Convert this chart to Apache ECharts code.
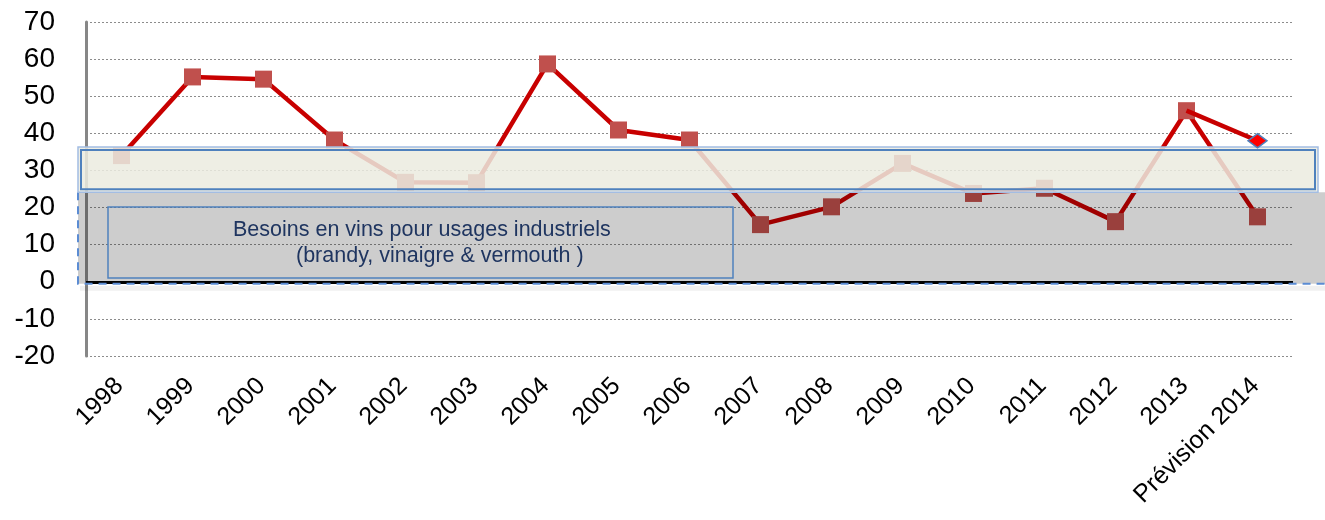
<!DOCTYPE html>
<html>
<head>
<meta charset="utf-8">
<script src="https://cdn.jsdelivr.net/npm/echarts@6/dist/echarts.min.js"></script>
<style>
html,body{margin:0;padding:0;background:#fff;}
#c{width:1325px;height:520px;}
</style>
</head>
<body>
<div id="c"></div>
<script>
const categories = ['1998','1999','2000','2001','2002','2003','2004','2005','2006','2007','2008','2009','2010','2011','2012','2013','Prévision 2014'];
const mainValues = [34.0, 55.2, 54.6, 38.2, 26.8, 26.7, 58.7, 40.9, 38.2, 15.4, 20.2, 31.9, 23.8, 25.2, 16.2, 46.1, 17.5];
const forecastValues = [null, null, null, null, null, null, null, null, null, null, null, null, null, null, null, 46.1, 38.0];
const yTicks = {min: -20, max: 70, interval: 10};
const bandRange = [24.1, 36.3];   // beige band (value range)
const industrialRange = [0, 24.1]; // grey zone (value range)
const boxLines = ['Besoins en vins pour usages industriels', '(brandy, vinaigre & vermouth )'];

const FONT = "'Liberation Sans', Arial, sans-serif";
const chart = echarts.init(document.getElementById('c'), null, {renderer: 'canvas'});

const forecastData = forecastValues.map((v, i) =>
  v === null ? null : (i === forecastValues.length - 1 ? {value: v} : {value: v, symbol: 'none'}));

chart.setOption({
  animation: false,
  grid: {left: 86, right: 32, top: 22, bottom: 164, containLabel: false},
  xAxis: {
    type: 'category',
    data: categories,
    boundaryGap: true,
    axisLine: {show: false},
    axisTick: {show: false},
    splitLine: {show: false},
    axisLabel: {
      rotate: 45, interval: 0, margin: 24, padding: [0, 3, 0, 0],
      color: '#000', fontSize: 25, fontFamily: FONT
    }
  },
  yAxis: {
    type: 'value',
    min: yTicks.min, max: yTicks.max, interval: yTicks.interval,
    axisLine: {show: true, lineStyle: {color: '#878787', width: 3}},
    axisTick: {show: false},
    axisLabel: {color: '#000', fontSize: 28, fontFamily: FONT, margin: 31},
    splitLine: {show: true, lineStyle: {color: '#8c8c8c', type: [2, 2], width: 1}}
  },
  series: [
    {
      type: 'line',
      data: mainValues,
      z: 2,
      clip: false,
      symbol: 'rect',
      symbolSize: 17,
      lineStyle: {color: '#C80000', width: 4.5},
      itemStyle: {color: '#C0504D'},
      markLine: {
        silent: true, symbol: 'none', label: {show: false},
        lineStyle: {color: '#000', width: 3, type: 'solid'},
        data: [{yAxis: 0}]
      }
    },
    {
      type: 'line',
      data: forecastData,
      z: 10,
      clip: false,
      symbol: 'diamond',
      symbolSize: [19, 14],
      connectNulls: false,
      lineStyle: {color: '#C80000', width: 4.5},
      itemStyle: {color: '#FF0000', borderColor: '#4F81BD', borderWidth: 1.5}
    }
  ]
});

function py(v) { return chart.convertToPixel({yAxisIndex: 0}, v); }

const bandTop = py(bandRange[1]);
const bandBot = py(bandRange[0]);
const greyTop = py(industrialRange[1]);
const greyBot = py(industrialRange[0]) + 2;

chart.setOption({
  graphic: [
    {type: 'rect', z: 4, silent: true,
     shape: {x: 80, y: greyBot + 2, width: 1245, height: 5},
     style: {fill: 'rgba(0,0,0,0.06)', shadowBlur: 6, shadowColor: 'rgba(0,0,0,0.15)'}},
    {type: 'rect', z: 5, silent: true,
     shape: {x: 78, y: greyTop, width: 1247, height: greyBot - greyTop},
     style: {fill: 'rgba(0,0,0,0.195)'}},
    {type: 'polyline', z: 5, silent: true,
     shape: {points: [[78, greyTop], [78, greyBot], [1325, greyBot]]},
     style: {fill: null, stroke: '#5B8CD3', lineWidth: 2, lineDash: [8, 6]}},
    {type: 'rect', z: 6, silent: true,
     shape: {x: 78, y: bandTop, width: 1240, height: bandBot - bandTop},
     style: {fill: 'rgba(235,235,224,0.86)', stroke: '#A3BDE3', lineWidth: 1.5}},
    {type: 'rect', z: 6, silent: true,
     shape: {x: 81, y: bandTop + 3, width: 1234, height: bandBot - bandTop - 6},
     style: {fill: null, stroke: '#4F81BD', lineWidth: 2}},
    {type: 'rect', z: 7, silent: true,
     shape: {x: 108, y: 207, width: 625, height: 71},
     style: {fill: null, stroke: '#4F81BD', lineWidth: 1.5}},
    {type: 'text', z: 7, silent: true, x: 233, y: 230,
     style: {text: boxLines[0], fill: '#1F3560', fontSize: 21.5, fontFamily: FONT, verticalAlign: 'middle'}},
    {type: 'text', z: 7, silent: true, x: 296, y: 256,
     style: {text: boxLines[1], fill: '#1F3560', fontSize: 21.5, fontFamily: FONT, verticalAlign: 'middle'}}
  ]
});
</script>
</body>
</html>
